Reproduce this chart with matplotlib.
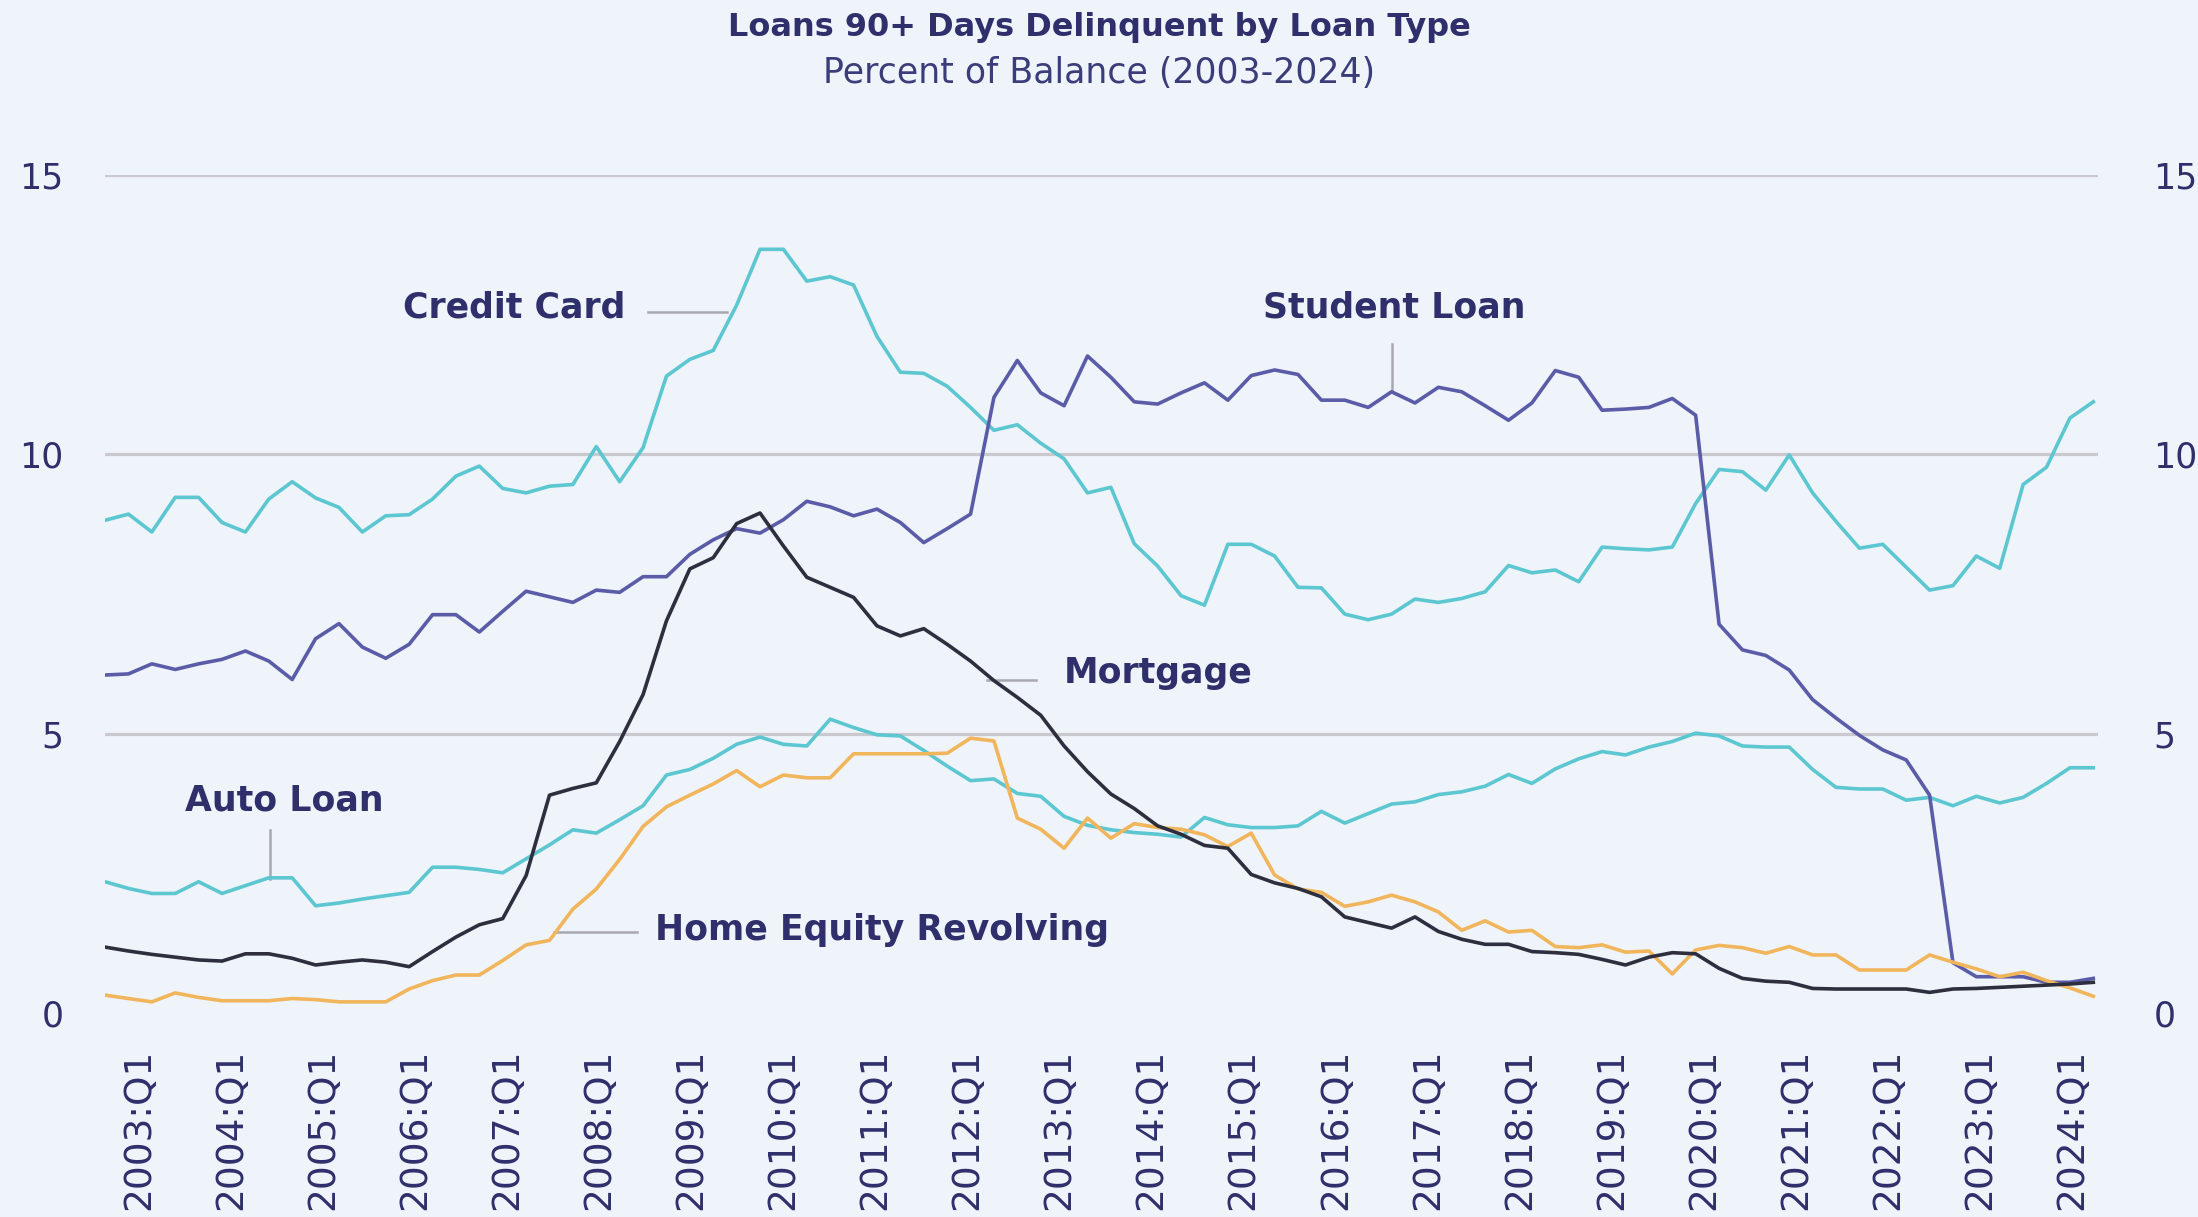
import numpy as np
import matplotlib.pyplot as plt
from matplotlib.transforms import blended_transform_factory

# quarterly, 2003:Q1 .. 2024:Q2 (percent of balance 90+ days delinquent)
years = list(range(2003, 2025))
tick_labels = [f"{y}:Q1" for y in years]

credit_card = [8.82, 8.93, 8.61, 9.23, 9.23, 8.78, 8.61, 9.2, 9.51, 9.22, 9.05, 8.61, 8.9, 8.92, 9.2, 9.61, 9.79, 9.39, 9.31, 9.43, 9.46, 10.14, 9.51,
               10.12, 11.4, 11.7, 11.86, 12.67, 13.67, 13.67, 13.1, 13.18, 13.03, 12.11, 11.47, 11.45, 11.22, 10.84, 10.43, 10.53, 10.2, 9.92, 9.31, 9.41, 8.4,
               8.0, 7.47, 7.3, 8.39, 8.39, 8.18, 7.62, 7.61, 7.14, 7.04, 7.14, 7.41, 7.35, 7.42, 7.54, 8.01, 7.88, 7.93, 7.72, 8.34, 8.31, 8.29,
               8.34, 9.12, 9.73, 9.69, 9.36, 9.99, 9.31, 8.8, 8.32, 8.39, 7.98, 7.57, 7.65, 8.18, 7.96, 9.46, 9.77, 10.65, 10.94]

student_loan = [6.05, 6.07, 6.25, 6.15, 6.25, 6.33, 6.48, 6.3, 5.97, 6.7, 6.97, 6.55, 6.35, 6.6, 7.13, 7.13, 6.82, 7.19, 7.55, 7.45, 7.35, 7.57, 7.53,
                7.81, 7.81, 8.21, 8.47, 8.67, 8.59, 8.83, 9.16, 9.06, 8.9, 9.02, 8.78, 8.42, 8.67, 8.93, 11.02, 11.68, 11.1, 10.87, 11.76, 11.38, 10.94,
                10.9, 11.1, 11.28, 10.97, 11.41, 11.51, 11.43, 10.97, 10.97, 10.84, 11.12, 10.92, 11.2, 11.12, 10.87, 10.61, 10.92, 11.5, 11.38, 10.79, 10.81, 10.84,
                11.0, 10.7, 6.96, 6.5, 6.4, 6.14, 5.61, 5.28, 4.97, 4.71, 4.53, 3.9, 0.9, 0.65, 0.65, 0.65, 0.55, 0.55, 0.62]

mortgage = [1.18, 1.11, 1.05, 1.0, 0.95, 0.93, 1.06, 1.06, 0.98, 0.86, 0.91, 0.95, 0.91, 0.83, 1.1, 1.36, 1.58, 1.69, 2.46, 3.9, 4.02, 4.12, 4.86,
            5.7, 7.02, 7.95, 8.15, 8.76, 8.95, 8.36, 7.8, 7.62, 7.44, 6.93, 6.75, 6.88, 6.6, 6.3, 5.95, 5.65, 5.33, 4.78, 4.32, 3.92, 3.66,
            3.35, 3.2, 3.0, 2.95, 2.48, 2.33, 2.23, 2.08, 1.72, 1.62, 1.52, 1.72, 1.46, 1.32, 1.23, 1.23, 1.1, 1.08, 1.05, 0.96, 0.86, 1.0,
            1.08, 1.06, 0.8, 0.62, 0.57, 0.55, 0.44, 0.43, 0.43, 0.43, 0.43, 0.37, 0.43, 0.44, 0.46, 0.48, 0.5, 0.52, 0.55]

auto_loan = [2.35, 2.23, 2.14, 2.14, 2.35, 2.14, 2.28, 2.42, 2.42, 1.92, 1.97, 2.04, 2.1, 2.16, 2.61, 2.61, 2.57, 2.51, 2.76, 3.01, 3.28, 3.22, 3.46,
             3.71, 4.26, 4.36, 4.56, 4.81, 4.94, 4.81, 4.78, 5.26, 5.11, 4.98, 4.96, 4.7, 4.42, 4.16, 4.19, 3.93, 3.88, 3.52, 3.36, 3.28, 3.23,
             3.2, 3.15, 3.5, 3.37, 3.32, 3.32, 3.35, 3.61, 3.4, 3.57, 3.74, 3.78, 3.91, 3.96, 4.06, 4.27, 4.11, 4.37, 4.55, 4.68, 4.62, 4.76,
             4.86, 5.01, 4.96, 4.78, 4.76, 4.76, 4.36, 4.04, 4.01, 4.01, 3.81, 3.86, 3.71, 3.88, 3.76, 3.86, 4.11, 4.39, 4.39]

home_equity = [0.32, 0.26, 0.2, 0.36, 0.28, 0.22, 0.22, 0.22, 0.26, 0.24, 0.2, 0.2, 0.2, 0.43, 0.58, 0.68, 0.68, 0.94, 1.22, 1.3, 1.86, 2.22, 2.75,
               3.34, 3.69, 3.9, 4.1, 4.34, 4.05, 4.26, 4.21, 4.21, 4.64, 4.64, 4.64, 4.64, 4.65, 4.92, 4.87, 3.49, 3.29, 2.95, 3.49, 3.13, 3.39,
               3.32, 3.29, 3.19, 2.98, 3.22, 2.47, 2.22, 2.16, 1.91, 1.99, 2.11, 1.99, 1.81, 1.48, 1.65, 1.45, 1.48, 1.19, 1.17, 1.22, 1.09, 1.11,
               0.7, 1.13, 1.21, 1.17, 1.07, 1.19, 1.04, 1.04, 0.77, 0.77, 0.77, 1.04, 0.91, 0.79, 0.65, 0.73, 0.58, 0.45, 0.3]

grid_levels = [5, 10, 15]

bg = "#EFF3FA"
navy = "#2E2F6B"
cyan = "#5CC7D1"
purple = "#5A5CA8"
dark = "#2D2F3E"
orange = "#F1B55C"
leader = "#A8A8B2"

fig = plt.figure(figsize=(21.98, 12.17), dpi=100)
fig.patch.set_facecolor(bg)
ax = fig.add_axes([0.0478, 0.1676, 0.9067, 0.6886])
ax.set_facecolor(bg)

x = np.arange(len(credit_card))

for lvl in grid_levels:
    ax.axhline(lvl, color="#C9C9CF", lw=2.3, zorder=0)

ax.plot(x, credit_card, color=cyan, lw=2.6, zorder=3)
ax.plot(x, auto_loan, color=cyan, lw=2.6, zorder=3)
ax.plot(x, student_loan, color=purple, lw=2.6, zorder=3)
ax.plot(x, home_equity, color=orange, lw=2.6, zorder=3)
ax.plot(x, mortgage, color=dark, lw=2.6, zorder=4)

ax.set_xlim(0, 85.2)
ax.set_ylim(0, 15)
for s in ax.spines.values():
    s.set_visible(False)

ax.set_xticks([])
ax.set_yticks([0, 5, 10, 15])
ax.tick_params(axis="y", length=0, pad=30, labelsize=25, labelcolor=navy)

ax2 = ax.twinx()
ax2.set_ylim(0, 15)
ax2.set_yticks([0, 5, 10, 15])
ax2.tick_params(axis="y", length=0, pad=40, labelsize=25, labelcolor=navy)
for s in ax2.spines.values():
    s.set_visible(False)

# x labels: bottom-aligned, rotated
trans = blended_transform_factory(ax.transData, fig.transFigure)
tick_pos = np.linspace(1.45, 84.1, len(tick_labels))
for p, lab in zip(tick_pos, tick_labels):
    ax.text(p, 0.006, lab, transform=trans, rotation=90, ha="center", va="bottom",
            fontsize=27, color=navy)

# series labels with leader lines
lab_kw = dict(fontsize=25, fontweight="bold", color=navy, ha="center", va="center", zorder=5)
ax.text(17.5, 12.63, "Credit Card", **lab_kw)
ax.plot([23.2, 26.6], [12.55, 12.55], color=leader, lw=1.8, zorder=2)

ax.text(55.1, 12.63, "Student Loan", **lab_kw)
ax.plot([55.0, 55.0], [11.98, 11.15], color=leader, lw=1.8, zorder=2)

ax.text(45.0, 6.09, "Mortgage", **lab_kw)
ax.plot([37.7, 39.8], [5.96, 5.96], color=leader, lw=1.8, zorder=2)

ax.text(7.66, 3.81, "Auto Loan", **lab_kw)
ax.plot([7.07, 7.07], [3.28, 2.4], color=leader, lw=1.8, zorder=2)

ax.text(33.2, 1.48, "Home Equity Revolving", **lab_kw)
ax.plot([19.2, 22.75], [1.45, 1.45], color=leader, lw=1.8, zorder=2)

fig.text(0.5, 0.977, "Loans 90+ Days Delinquent by Loan Type", ha="center", va="center",
         fontsize=23, fontweight="bold", color=navy)
fig.text(0.5, 0.940, "Percent of Balance (2003-2024)", ha="center", va="center",
         fontsize=25, color="#3B3D7A")

fig.savefig("out.png", dpi=100, facecolor=bg)
